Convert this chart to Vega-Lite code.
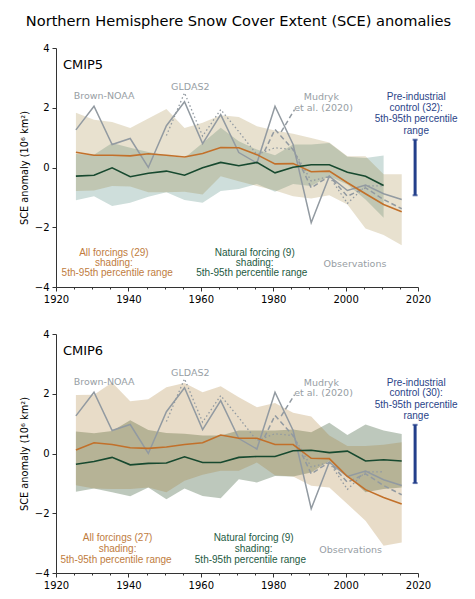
{
  "$schema": "https://vega.github.io/schema/vega-lite/v6.json",
  "padding": {"left": 19, "top": 14, "right": 0, "bottom": 0},
  "background": "white",
  "title": {"text": "Northern Hemisphere Snow Cover Extent (SCE) anomalies", "font": "DejaVu Sans", "fontSize": 14.6, "fontWeight": "normal", "color": "black", "anchor": "middle", "offset": 14},
  "config": {
    "view": {"stroke": null},
    "font": "DejaVu Sans",
    "axis": {
      "grid": false,
      "domainColor": "#333333",
      "tickColor": "#333333",
      "labelColor": "black",
      "titleColor": "black",
      "labelFont": "DejaVu Sans",
      "titleFont": "DejaVu Sans",
      "labelFontSize": 10,
      "titleFontSize": 9.8,
      "titleFontWeight": "normal",
      "labelOverlap": false,
      "labelFlush": false,
      "labelBound": false
    }
  },
  "datasets": {
    "obs": [
      {"year": 1925.5, "brown": 1.26, "gldas": null},
      {"year": 1930.5, "brown": 2.05, "gldas": null},
      {"year": 1935.5, "brown": 0.77, "gldas": null},
      {"year": 1940.5, "brown": 0.97, "gldas": null},
      {"year": 1945.5, "brown": 0.0, "gldas": null},
      {"year": 1950.5, "brown": 1.4, "gldas": 1.07},
      {"year": 1955.5, "brown": 2.2, "gldas": 2.5},
      {"year": 1960.5, "brown": 0.8, "gldas": 1.05},
      {"year": 1965.5, "brown": 1.77, "gldas": 1.94},
      {"year": 1970.5, "brown": 0.5, "gldas": 1.2},
      {"year": 1975.5, "brown": 0.15, "gldas": 0.43},
      {"year": 1980.5, "brown": 2.05, "gldas": 0.66},
      {"year": 1985.5, "brown": 0.77, "gldas": 0.6},
      {"year": 1990.5, "brown": -1.85, "gldas": -0.45},
      {"year": 1995.5, "brown": -0.29, "gldas": -0.3},
      {"year": 2000.5, "brown": -0.77, "gldas": -1.2},
      {"year": 2005.5, "brown": -0.59, "gldas": -0.62},
      {"year": 2010.5, "brown": -0.88, "gldas": -0.61},
      {"year": 2015.5, "brown": -1.07, "gldas": null}
    ],
    "mudryk": [
      {"year": 1977.6, "value": 0.55},
      {"year": 1980.5, "value": 1.27},
      {"year": 1985.5, "value": 0.6},
      {"year": 1990.5, "value": -0.68},
      {"year": 1995.5, "value": -0.29},
      {"year": 2000.5, "value": -0.96},
      {"year": 2005.5, "value": -0.68},
      {"year": 2010.5, "value": -1.07},
      {"year": 2015.5, "value": -1.38}
    ],
    "cmip5": [
      {"year": 1925.5, "all": 0.51, "all_lo": -0.79, "all_hi": 1.83, "nat": -0.29, "nat_lo": -1.1, "nat_hi": 0.45},
      {"year": 1930.5, "all": 0.41, "all_lo": -0.77, "all_hi": 1.6, "nat": -0.26, "nat_lo": -0.96, "nat_hi": 0.43},
      {"year": 1935.5, "all": 0.41, "all_lo": -0.62, "all_hi": 1.52, "nat": -0.01, "nat_lo": -1.29, "nat_hi": 0.82},
      {"year": 1940.5, "all": 0.39, "all_lo": -0.64, "all_hi": 1.32, "nat": -0.31, "nat_lo": -1.18, "nat_hi": 0.66},
      {"year": 1945.5, "all": 0.46, "all_lo": -0.83, "all_hi": 1.64, "nat": -0.19, "nat_lo": -0.98, "nat_hi": 0.52},
      {"year": 1950.5, "all": 0.41, "all_lo": -0.83, "all_hi": 1.96, "nat": -0.12, "nat_lo": -0.83, "nat_hi": 0.4},
      {"year": 1955.5, "all": 0.35, "all_lo": -0.81, "all_hi": 1.32, "nat": -0.26, "nat_lo": -1.09, "nat_hi": 0.32},
      {"year": 1960.5, "all": 0.47, "all_lo": -0.9, "all_hi": 1.5, "nat": -0.01, "nat_lo": -1.18, "nat_hi": 0.82},
      {"year": 1965.5, "all": 0.67, "all_lo": -0.29, "all_hi": 1.75, "nat": 0.17, "nat_lo": -0.79, "nat_hi": 1.33},
      {"year": 1970.5, "all": 0.66, "all_lo": -0.46, "all_hi": 1.69, "nat": 0.06, "nat_lo": -0.72, "nat_hi": 0.88},
      {"year": 1975.5, "all": 0.43, "all_lo": -0.62, "all_hi": 1.38, "nat": 0.17, "nat_lo": -0.55, "nat_hi": 0.6},
      {"year": 1980.5, "all": 0.12, "all_lo": -0.77, "all_hi": 1.24, "nat": -0.18, "nat_lo": -0.81, "nat_hi": 0.41},
      {"year": 1985.5, "all": 0.13, "all_lo": -0.96, "all_hi": 1.13, "nat": 0.01, "nat_lo": -0.55, "nat_hi": 0.77},
      {"year": 1990.5, "all": -0.14, "all_lo": -1.04, "all_hi": 0.99, "nat": 0.09, "nat_lo": -0.62, "nat_hi": 0.77},
      {"year": 1995.5, "all": -0.12, "all_lo": -0.93, "all_hi": 0.84, "nat": 0.09, "nat_lo": -0.29, "nat_hi": 0.82},
      {"year": 2000.5, "all": -0.51, "all_lo": -1.24, "all_hi": 0.38, "nat": -0.16, "nat_lo": -0.57, "nat_hi": 0.36},
      {"year": 2005.5, "all": -0.88, "all_lo": -2.04, "all_hi": 0.38, "nat": -0.29, "nat_lo": -1.07, "nat_hi": 0.32},
      {"year": 2010.5, "all": -1.24, "all_lo": -2.26, "all_hi": -0.23, "nat": -0.6, "nat_lo": -1.68, "nat_hi": 0.4},
      {"year": 2015.5, "all": -1.48, "all_lo": -2.6, "all_hi": -0.23, "nat": null, "nat_lo": null, "nat_hi": null}
    ],
    "cmip6": [
      {"year": 1925.5, "all": 0.12, "all_lo": -1.06, "all_hi": 1.96, "nat": -0.36, "nat_lo": -1.28, "nat_hi": 0.74},
      {"year": 1930.5, "all": 0.36, "all_lo": -1.17, "all_hi": 1.97, "nat": -0.27, "nat_lo": -1.17, "nat_hi": 0.68},
      {"year": 1935.5, "all": 0.3, "all_lo": -1.19, "all_hi": 2.38, "nat": -0.13, "nat_lo": -1.3, "nat_hi": 0.75},
      {"year": 1940.5, "all": 0.19, "all_lo": -1.19, "all_hi": 1.75, "nat": -0.38, "nat_lo": -1.43, "nat_hi": 1.11},
      {"year": 1945.5, "all": 0.17, "all_lo": -1.14, "all_hi": 1.82, "nat": -0.33, "nat_lo": -1.14, "nat_hi": 0.79},
      {"year": 1950.5, "all": 0.22, "all_lo": -1.3, "all_hi": 2.22, "nat": -0.32, "nat_lo": -1.53, "nat_hi": 0.69},
      {"year": 1955.5, "all": 0.3, "all_lo": -0.91, "all_hi": 2.36, "nat": -0.11, "nat_lo": -1.17, "nat_hi": 0.66},
      {"year": 1960.5, "all": 0.36, "all_lo": -0.71, "all_hi": 2.05, "nat": -0.3, "nat_lo": -1.42, "nat_hi": 0.6},
      {"year": 1965.5, "all": 0.62, "all_lo": -0.58, "all_hi": 2.25, "nat": -0.3, "nat_lo": -1.5, "nat_hi": 0.6},
      {"year": 1970.5, "all": 0.51, "all_lo": -0.58, "all_hi": 1.88, "nat": -0.13, "nat_lo": -0.86, "nat_hi": 0.77},
      {"year": 1975.5, "all": 0.51, "all_lo": -0.3, "all_hi": 1.55, "nat": -0.1, "nat_lo": -0.97, "nat_hi": 0.77},
      {"year": 1980.5, "all": 0.3, "all_lo": -0.73, "all_hi": 1.69, "nat": -0.1, "nat_lo": -0.75, "nat_hi": 0.77},
      {"year": 1985.5, "all": 0.3, "all_lo": -0.77, "all_hi": 1.36, "nat": 0.09, "nat_lo": -0.77, "nat_hi": 0.8},
      {"year": 1990.5, "all": -0.16, "all_lo": -1.08, "all_hi": 1.24, "nat": 0.11, "nat_lo": -0.64, "nat_hi": 0.71},
      {"year": 1995.5, "all": -0.17, "all_lo": -1.14, "all_hi": 0.6, "nat": 0.03, "nat_lo": -0.25, "nat_hi": 1.03},
      {"year": 2000.5, "all": -0.77, "all_lo": -1.69, "all_hi": 0.25, "nat": 0.08, "nat_lo": -0.75, "nat_hi": 0.62},
      {"year": 2005.5, "all": -1.21, "all_lo": -2.25, "all_hi": 0.25, "nat": -0.25, "nat_lo": -1.3, "nat_hi": 0.97},
      {"year": 2010.5, "all": -1.47, "all_lo": -3.09, "all_hi": 0.29, "nat": -0.21, "nat_lo": -1.19, "nat_hi": 0.77},
      {"year": 2015.5, "all": -1.69, "all_lo": -2.98, "all_hi": 0.38, "nat": -0.25, "nat_lo": -1.14, "nat_hi": 0.65}
    ],
    "labels5": [
      {"kind": "title", "year": 1921.9, "value": 3.44, "label": "CMIP5"},
      {"kind": "obs", "year": 1933.3, "value": 2.38, "label": "Brown-NOAA"},
      {"kind": "obs", "year": 1957.1, "value": 2.7, "label": "GLDAS2"},
      {"kind": "obs", "year": 1993.3, "value": 2.35, "label": "Mudryk"},
      {"kind": "obs", "year": 1993.9, "value": 1.99, "label": "et al. (2020)"},
      {"kind": "obs", "year": 2002.6, "value": -3.22, "label": "Observations"},
      {"kind": "all", "year": 1936, "value": -2.86, "label": "All forcings (29)"},
      {"kind": "all", "year": 1936, "value": -3.19, "label": "shading:"},
      {"kind": "all", "year": 1936.9, "value": -3.52, "label": "5th-95th percentile range"},
      {"kind": "natural", "year": 1974.9, "value": -2.86, "label": "Natural forcing (9)"},
      {"kind": "natural", "year": 1974.9, "value": -3.19, "label": "shading:"},
      {"kind": "natural", "year": 1974.1, "value": -3.52, "label": "5th-95th percentile range"},
      {"kind": "control", "year": 2019.5, "value": 2.35, "label": "Pre-industrial"},
      {"kind": "control", "year": 2019.5, "value": 1.99, "label": "control (32):"},
      {"kind": "control", "year": 2019.5, "value": 1.64, "label": "5th-95th percentile"},
      {"kind": "control", "year": 2019.5, "value": 1.21, "label": "range"}
    ],
    "labels6": [
      {"kind": "title", "year": 1921.9, "value": 3.44, "label": "CMIP6"},
      {"kind": "obs", "year": 1933.3, "value": 2.4, "label": "Brown-NOAA"},
      {"kind": "obs", "year": 1957.1, "value": 2.69, "label": "GLDAS2"},
      {"kind": "obs", "year": 1993.3, "value": 2.36, "label": "Mudryk"},
      {"kind": "obs", "year": 1993.9, "value": 2.01, "label": "et al. (2020)"},
      {"kind": "obs", "year": 2001.4, "value": -3.23, "label": "Observations"},
      {"kind": "all", "year": 1937, "value": -2.84, "label": "All forcings (27)"},
      {"kind": "all", "year": 1937, "value": -3.19, "label": "shading:"},
      {"kind": "all", "year": 1936.6, "value": -3.58, "label": "5th-95th percentile range"},
      {"kind": "natural", "year": 1974.6, "value": -2.84, "label": "Natural forcing (9)"},
      {"kind": "natural", "year": 1974.6, "value": -3.19, "label": "shading:"},
      {"kind": "natural", "year": 1973.7, "value": -3.58, "label": "5th-95th percentile range"},
      {"kind": "control", "year": 2019.5, "value": 2.36, "label": "Pre-industrial"},
      {"kind": "control", "year": 2019.5, "value": 2.01, "label": "control (30):"},
      {"kind": "control", "year": 2019.5, "value": 1.64, "label": "5th-95th percentile"},
      {"kind": "control", "year": 2019.5, "value": 1.24, "label": "range"}
    ],
    "leader5": [{"year": 1985.9, "value": 1.94}, {"year": 1982.2, "value": 1.19}],
    "leader6": [{"year": 1985.9, "value": 1.97}, {"year": 1982.2, "value": 1.25}],
    "control5": [{"year": 2019.2, "lo": -0.93, "hi": 0.93}],
    "control6": [{"year": 2019.2, "lo": -0.99, "hi": 0.96}]
  },
  "spacing": 47,
  "bounds": "flush",
  "vconcat": [
    {
      "width": 362,
      "height": 239,
      "encoding": {
        "x": {"field": "year", "type": "quantitative", "scale": {"domain": [1920, 2020], "nice": false},
          "axis": {"title": null, "values": [1920,1925,1930,1935,1940,1945,1950,1955,1960,1965,1970,1975,1980,1985,1990,1995,2000,2005,2010,2015,2020],
            "labelExpr": "datum.value % 20 === 0 ? datum.value : ''",
            "tickSize": {"expr": "datum.value % 20 === 0 ? 4 : 2"}, "labelPadding": 3}}
      },
      "layer": [
        {"data": {"name": "cmip5"}, "mark": {"type": "area", "color": "#0a5a4b", "opacity": 0.2},
          "encoding": {"y": {"field": "nat_lo", "type": "quantitative", "scale": {"domain": [-4, 4], "nice": false},
            "axis": {"title": "SCE anomaly (10⁶ km²)", "values": [-4,-3.5,-3,-2.5,-2,-1.5,-1,-0.5,0,0.5,1,1.5,2,2.5,3,3.5,4],
              "labelExpr": "datum.value % 2 === 0 ? format(datum.value, 'd') : ''",
              "tickSize": {"expr": "datum.value % 2 === 0 ? 4 : 2"}, "labelPadding": 3, "titlePadding": 5}},
            "y2": {"field": "nat_hi"}}},
        {"data": {"name": "cmip5"}, "mark": {"type": "area", "color": "#8c690f", "opacity": 0.2},
          "encoding": {"y": {"field": "all_lo", "type": "quantitative"}, "y2": {"field": "all_hi"}}},
        {"data": {"name": "obs"}, "mark": {"type": "line", "color": "#929aa1", "strokeWidth": 1.5},
          "encoding": {"y": {"field": "brown", "type": "quantitative"}}},
        {"data": {"name": "obs"}, "mark": {"type": "line", "color": "#929aa1", "strokeWidth": 1.3, "strokeDash": [1.5, 2.5]},
          "encoding": {"y": {"field": "gldas", "type": "quantitative"}}},
        {"data": {"name": "mudryk"}, "mark": {"type": "line", "color": "#929aa1", "strokeWidth": 1.5, "strokeDash": [5, 3]},
          "encoding": {"y": {"field": "value", "type": "quantitative"}}},
        {"data": {"name": "leader5"}, "mark": {"type": "line", "color": "#929aa1", "strokeWidth": 1.5, "strokeDash": [5, 3]},
          "encoding": {"y": {"field": "value", "type": "quantitative"}}},
        {"mark": {"type": "rule", "color": "#8c8c8c", "strokeWidth": 1, "strokeDash": [6, 3]},
          "encoding": {"x": {"datum": 1920}, "x2": {"datum": 2020}, "y": {"datum": 0}}},
        {"data": {"name": "cmip5"}, "mark": {"type": "line", "color": "#c2702a", "strokeWidth": 1.6},
          "encoding": {"y": {"field": "all", "type": "quantitative"}}},
        {"data": {"name": "cmip5"}, "mark": {"type": "line", "color": "#17492f", "strokeWidth": 1.6},
          "encoding": {"y": {"field": "nat", "type": "quantitative"}}},
        {"data": {"name": "control5"}, "mark": {"type": "rule", "color": "#233f8b", "strokeWidth": 3},
          "encoding": {"y": {"field": "lo", "type": "quantitative"}, "y2": {"field": "hi"}}},
        {"data": {"name": "control5"}, "mark": {"type": "tick", "color": "#233f8b", "orient": "horizontal", "size": 5, "thickness": 2},
          "encoding": {"y": {"field": "lo", "type": "quantitative"}}},
        {"data": {"name": "control5"}, "mark": {"type": "tick", "color": "#233f8b", "orient": "horizontal", "size": 5, "thickness": 2},
          "encoding": {"y": {"field": "hi", "type": "quantitative"}}},
        {"data": {"name": "labels5"}, "transform": [{"filter": "datum.kind === 'title'"}],
          "mark": {"type": "text", "font": "DejaVu Sans", "fontSize": 13, "align": "left", "color": "black"},
          "encoding": {"y": {"field": "value", "type": "quantitative"}, "text": {"field": "label"}}},
        {"data": {"name": "labels5"}, "transform": [{"filter": "datum.kind === 'obs'"}],
          "mark": {"type": "text", "font": "DejaVu Sans", "fontSize": 9.5, "color": "#979ea4"},
          "encoding": {"y": {"field": "value", "type": "quantitative"}, "text": {"field": "label"}}},
        {"data": {"name": "labels5"}, "transform": [{"filter": "datum.kind !== 'obs' && datum.kind !== 'title'"}],
          "mark": {"type": "text", "font": "Liberation Sans", "fontSize": 10},
          "encoding": {"y": {"field": "value", "type": "quantitative"}, "text": {"field": "label"},
            "color": {"field": "kind", "type": "nominal", "legend": null,
              "scale": {"domain": ["all", "natural", "control"], "range": ["#c07c3e", "#1d5a3f", "#2a4488"]}}}}
      ]
    },
    {
      "width": 362,
      "height": 239,
      "encoding": {
        "x": {"field": "year", "type": "quantitative", "scale": {"domain": [1920, 2020], "nice": false},
          "axis": {"title": null, "values": [1920,1925,1930,1935,1940,1945,1950,1955,1960,1965,1970,1975,1980,1985,1990,1995,2000,2005,2010,2015,2020],
            "labelExpr": "datum.value % 20 === 0 ? datum.value : ''",
            "tickSize": {"expr": "datum.value % 20 === 0 ? 4 : 2"}, "labelPadding": 3}}
      },
      "layer": [
        {"data": {"name": "cmip6"}, "mark": {"type": "area", "color": "#264820", "opacity": 0.3},
          "encoding": {"y": {"field": "nat_lo", "type": "quantitative", "scale": {"domain": [-4, 4], "nice": false},
            "axis": {"title": "SCE anomaly (10⁶ km²)", "values": [-4,-3.5,-3,-2.5,-2,-1.5,-1,-0.5,0,0.5,1,1.5,2,2.5,3,3.5,4],
              "labelExpr": "datum.value % 2 === 0 ? format(datum.value, 'd') : ''",
              "tickSize": {"expr": "datum.value % 2 === 0 ? 4 : 2"}, "labelPadding": 3, "titlePadding": 5}},
            "y2": {"field": "nat_hi"}}},
        {"data": {"name": "cmip6"}, "mark": {"type": "area", "color": "#a37323", "opacity": 0.25},
          "encoding": {"y": {"field": "all_lo", "type": "quantitative"}, "y2": {"field": "all_hi"}}},
        {"data": {"name": "obs"}, "mark": {"type": "line", "color": "#929aa1", "strokeWidth": 1.5},
          "encoding": {"y": {"field": "brown", "type": "quantitative"}}},
        {"data": {"name": "obs"}, "mark": {"type": "line", "color": "#929aa1", "strokeWidth": 1.3, "strokeDash": [1.5, 2.5]},
          "encoding": {"y": {"field": "gldas", "type": "quantitative"}}},
        {"data": {"name": "mudryk"}, "mark": {"type": "line", "color": "#929aa1", "strokeWidth": 1.5, "strokeDash": [5, 3]},
          "encoding": {"y": {"field": "value", "type": "quantitative"}}},
        {"data": {"name": "leader6"}, "mark": {"type": "line", "color": "#929aa1", "strokeWidth": 1.5, "strokeDash": [5, 3]},
          "encoding": {"y": {"field": "value", "type": "quantitative"}}},
        {"mark": {"type": "rule", "color": "#8c8c8c", "strokeWidth": 1, "strokeDash": [6, 3]},
          "encoding": {"x": {"datum": 1920}, "x2": {"datum": 2020}, "y": {"datum": 0}}},
        {"data": {"name": "cmip6"}, "mark": {"type": "line", "color": "#c2702a", "strokeWidth": 1.6},
          "encoding": {"y": {"field": "all", "type": "quantitative"}}},
        {"data": {"name": "cmip6"}, "mark": {"type": "line", "color": "#17492f", "strokeWidth": 1.6},
          "encoding": {"y": {"field": "nat", "type": "quantitative"}}},
        {"data": {"name": "control6"}, "mark": {"type": "rule", "color": "#233f8b", "strokeWidth": 3},
          "encoding": {"y": {"field": "lo", "type": "quantitative"}, "y2": {"field": "hi"}}},
        {"data": {"name": "control6"}, "mark": {"type": "tick", "color": "#233f8b", "orient": "horizontal", "size": 5, "thickness": 2},
          "encoding": {"y": {"field": "lo", "type": "quantitative"}}},
        {"data": {"name": "control6"}, "mark": {"type": "tick", "color": "#233f8b", "orient": "horizontal", "size": 5, "thickness": 2},
          "encoding": {"y": {"field": "hi", "type": "quantitative"}}},
        {"data": {"name": "labels6"}, "transform": [{"filter": "datum.kind === 'title'"}],
          "mark": {"type": "text", "font": "DejaVu Sans", "fontSize": 13, "align": "left", "color": "black"},
          "encoding": {"y": {"field": "value", "type": "quantitative"}, "text": {"field": "label"}}},
        {"data": {"name": "labels6"}, "transform": [{"filter": "datum.kind === 'obs'"}],
          "mark": {"type": "text", "font": "DejaVu Sans", "fontSize": 9.5, "color": "#979ea4"},
          "encoding": {"y": {"field": "value", "type": "quantitative"}, "text": {"field": "label"}}},
        {"data": {"name": "labels6"}, "transform": [{"filter": "datum.kind !== 'obs' && datum.kind !== 'title'"}],
          "mark": {"type": "text", "font": "Liberation Sans", "fontSize": 10},
          "encoding": {"y": {"field": "value", "type": "quantitative"}, "text": {"field": "label"},
            "color": {"field": "kind", "type": "nominal", "legend": null,
              "scale": {"domain": ["all", "natural", "control"], "range": ["#c07c3e", "#1d5a3f", "#2a4488"]}}}}
      ]
    }
  ]
}
